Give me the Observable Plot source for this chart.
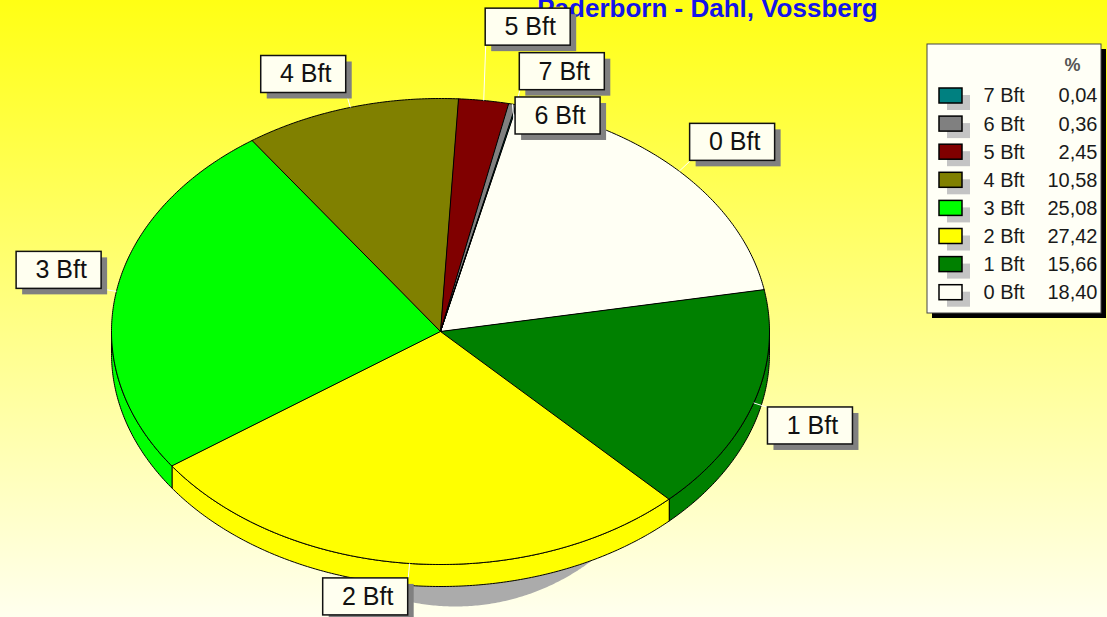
<!DOCTYPE html>
<html><head><meta charset="utf-8">
<script src="https://cdn.jsdelivr.net/npm/d3@7"></script>
<script src="https://cdn.jsdelivr.net/npm/@observablehq/plot@0.6"></script>
<style>
html,body{margin:0;padding:0;}
body{width:1107px;height:617px;overflow:hidden;background:linear-gradient(to bottom,#ffff14 0%,#ffffee 100%);}
#chart svg{display:block;}
</style></head><body><div id="chart"></div>
<script>
// ---- data ----
const title = "Paderborn - Dahl, Vossberg";
const categories = ["0 Bft","1 Bft","2 Bft","3 Bft","4 Bft","5 Bft","6 Bft","7 Bft"];
const percents = [18.40,15.66,27.42,25.08,10.58,2.45,0.36,0.04];
const colors = ["#fffff4","#008000","#ffff00","#00ff00","#808000","#800000","#808080","#008080"];
const legendHeader = "%";

// ---- layout ----
const W = 1107, H = 617;
const cx = 440, cy = 331, rx = 329, ry = 233, depth = 22;
const startDeg = 13.4;
const fmt = v => d3.format(".2f")(v).replace(".", ",");

const data = categories.map((c, i) => ({cat: c, value: percents[i], color: colors[i], i}));
const a0 = startDeg * Math.PI / 180;
const arcs = d3.pie().sort(null).value(d => d.value).startAngle(a0).endAngle(a0 + 2 * Math.PI)(data);
const px = t => cx + rx * Math.sin(t);
const py = t => cy - ry * Math.cos(t);
const sample = (a, b) => {
  const n = Math.max(2, Math.ceil((b - a) / (Math.PI / 360)) + 1);
  return d3.range(n).map(k => a + (b - a) * k / (n - 1));
};

// top faces
const topPts = [];
arcs.forEach((a, i) => {
  topPts.push({k: i, x: cx, y: cy, color: a.data.color});
  sample(a.startAngle, a.endAngle).forEach(t => topPts.push({k: i, x: px(t), y: py(t), color: a.data.color}));
});
// side walls (front half)
const sidePts = [];
arcs.forEach((a, i) => {
  const s = Math.max(a.startAngle, Math.PI / 2), e = Math.min(a.endAngle, 3 * Math.PI / 2);
  if (e <= s) return;
  const ts = sample(s, e);
  ts.forEach(t => sidePts.push({k: i, x: px(t), y: py(t), color: a.data.color}));
  ts.slice().reverse().forEach(t => sidePts.push({k: i, x: px(t), y: py(t) + depth, color: a.data.color}));
});
// shadow ellipse
const shadowPts = sample(0, 2 * Math.PI).map(t => ({x: 455 + 230 * Math.sin(t), y: 370 - 236 * Math.cos(t)}));

// labels
const bw = 85, bh = 37, gap = 7, L = 15;
const labels = arcs.map((a, i) => {
  const m = (a.startAngle + a.endAngle) / 2;
  const s = Math.sin(m), c = Math.cos(m);
  const ax = px(m), ay = py(m);
  const ex = ax + L * s, ey = ay - L * c;
  const x1 = s >= 0 ? ex : ex - bw;
  const y1 = c >= 0 ? ey - bh : ey;
  return {cat: a.data.cat, value: a.data.value, ax, ay, ex, ey, x1, y1, shift: 0};
});
const placed = [];
const overlaps = (b, sh) => placed.some(p =>
  b.x1 < p.x1 + bw + gap && b.x1 + bw + gap > p.x1 &&
  b.y1 + sh < p.y1 + p.shift + bh + gap && b.y1 + sh + bh + gap > p.y1 + p.shift);
labels.slice().sort((a, b) => a.value - b.value).forEach(l => {
  let sh = 0;
  if (overlaps(l, 0)) {
    let down = 1; while (overlaps(l, down) && down < 500) down++;
    let up = 1; while (overlaps(l, -up) && up < 500) up++;
    if (l.y1 - up < 0) up = 1e9;
    sh = down <= up + 3 ? down : -up;
  }
  l.shift = sh;
  placed.push(l);
});
labels.forEach(l => { l.y1 += l.shift; l.ey += l.shift; l.x2 = l.x1 + bw; l.y2 = l.y1 + bh; });

// legend
const legendRows = data.slice().reverse().map((d, r) => ({...d, y: 95.5 + r * 28.1, label: fmt(d.value)}));
const legendBox = [{x1: 927, x2: 1101, y1: 44, y2: 313}];

const chart = Plot.plot({
  width: W, height: H, margin: 0,
  x: {domain: [0, W], range: [0, W], axis: null},
  y: {domain: [0, H], range: [0, H], axis: null},
  color: {type: "identity"},
  style: {background: "transparent", fontFamily: "'Liberation Sans', Arial, sans-serif"},
  marks: [
    Plot.line(shadowPts, {x: "x", y: "y", curve: "linear-closed", fill: "#ababab", stroke: "none"}),
    Plot.line(sidePts, {x: "x", y: "y", z: "k", curve: "linear-closed", fill: "color", stroke: "black", strokeWidth: 1}),
    Plot.line(topPts, {x: "x", y: "y", z: "k", curve: "linear-closed", fill: "color", stroke: "black", strokeWidth: 1}),
    Plot.text([title], {x: [707], y: [8.5], text: d => d, fill: "#1515e8", fontSize: 26, fontWeight: "bold"}),
    Plot.link(labels, {x1: "ax", y1: "ay", x2: "ex", y2: "ey", stroke: "white", strokeWidth: 1}),
    Plot.rect(labels, {x1: "x1", x2: "x2", y1: "y1", y2: "y2", fill: "#808080", dx: 6, dy: 6}),
    Plot.rect(labels, {x1: "x1", x2: "x2", y1: "y1", y2: "y2", fill: "#fffff0", stroke: "#111", strokeWidth: 1.5}),
    Plot.text(labels, {x: d => d.x1 + bw / 2 + 2, y: d => d.y1 + bh / 2, text: "cat", fontSize: 25, fill: "#111"}),
    // legend
    Plot.rect(legendBox, {x1: "x1", x2: "x2", y1: "y1", y2: "y2", fill: "black", dx: 5, dy: 5}),
    Plot.rect(legendBox, {x1: "x1", x2: "x2", y1: "y1", y2: "y2", fill: "#fffff6", stroke: "#444", strokeWidth: 1}),
    Plot.text([legendHeader], {x: [1072], y: [65], text: d => d, fontSize: 18, fill: "#555", fontWeight: "bold"}),
    Plot.rect(legendRows, {x1: 939, x2: 962, y1: d => d.y - 7.5, y2: d => d.y + 7.5, fill: "#c4c4c4", dx: 8, dy: 7}),
    Plot.rect(legendRows, {x1: 939, x2: 962, y1: d => d.y - 7.5, y2: d => d.y + 7.5, fill: "color", stroke: "black", strokeWidth: 1.5}),
    Plot.text(legendRows, {x: 983, y: "y", text: "cat", textAnchor: "start", fontSize: 20, fill: "#1a1a1a"}),
    Plot.text(legendRows, {x: 1097, y: "y", text: "label", textAnchor: "end", fontSize: 20, fill: "#1a1a1a"})
  ]
});
document.getElementById("chart").appendChild(chart);
</script>
</body></html>
